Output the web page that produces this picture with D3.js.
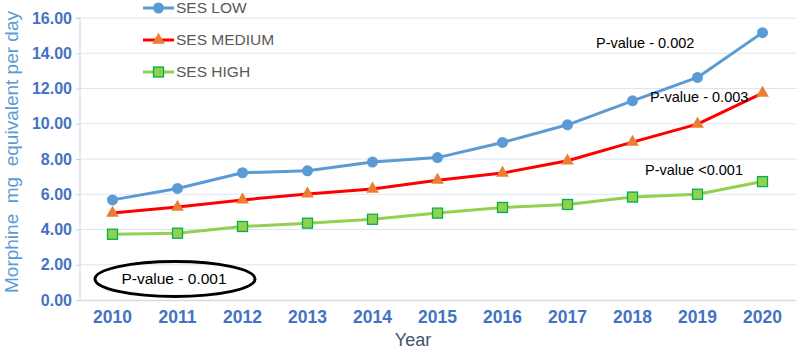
<!DOCTYPE html>
<html>
<head>
<meta charset="utf-8">
<script src="https://cdn.jsdelivr.net/npm/d3@7"></script>
<style>
  body { margin: 0; background: #fff; }
  svg { display: block; font-family: "Liberation Sans", Arial, sans-serif; }
</style>
</head>
<body>
<div id="grafico"></div>
<script>
// Dados
const anos = ['2010', '2011', '2012', '2013', '2014', '2015', '2016', '2017', '2018', '2019', '2020'];
const sesLow = [5.68, 6.33, 7.22, 7.33, 7.83, 8.08, 8.94, 9.94, 11.3, 12.63, 15.17];
const sesMedium = [4.93, 5.27, 5.68, 6.02, 6.3, 6.8, 7.2, 7.9, 8.96, 9.98, 11.74];
const sesHigh = [3.73, 3.79, 4.17, 4.36, 4.58, 4.93, 5.25, 5.42, 5.84, 6.0, 6.72];
const ticksY = [0, 2, 4, 6, 8, 10, 12, 14, 16];
const nomesSeries = ['SES LOW', 'SES MEDIUM', 'SES HIGH'];
const pValores = ['P-value - 0.002', 'P-value - 0.003', 'P-value <0.001'];
const pGeral = 'P-value - 0.001';

const width = 797, height = 349;
const margin = { top: 18, right: 2, bottom: 49, left: 80 };

const svg = d3.select('#grafico').append('svg')
  .attr('width', width)
  .attr('height', height);

// Escalas
const x = d3.scaleBand().domain(anos).range([margin.left, width - margin.right]);
const y = d3.scaleLinear().domain([0, 16]).range([height - margin.bottom, margin.top]);
const cx = d => x(d) + x.bandwidth() / 2;

// Linhas de grade
svg.append('g')
  .selectAll('line')
  .data(ticksY.slice(1))
  .join('line')
  .attr('x1', margin.left).attr('x2', width)
  .attr('y1', d => y(d)).attr('y2', d => y(d))
  .attr('stroke', '#dce6f2').attr('stroke-width', 1);

// Eixo Y
const eixoY = svg.append('g')
  .attr('transform', `translate(${margin.left},0)`)
  .call(d3.axisLeft(y).tickValues(ticksY).tickFormat(d3.format('.2f')).tickSize(4).tickPadding(4));
eixoY.select('.domain').attr('stroke', '#bdd7ee').attr('d', `M-4,${y(16)}H0V${y(0)}`);
eixoY.selectAll('.tick line').attr('stroke', '#bdd7ee');
eixoY.selectAll('.tick text')
  .attr('fill', '#4472c4').style('font-size', '16px').style('font-weight', 'bold');

// Eixo X
const eixoX = svg.append('g')
  .attr('transform', `translate(0,${y(0)})`)
  .call(d3.axisBottom(x).tickSize(0).tickPadding(11));
eixoX.select('.domain').attr('stroke', '#d9d9d9').attr('stroke-width', 1.5);
eixoX.selectAll('.tick text')
  .attr('fill', '#4472c4').style('font-size', '17.5px').style('font-weight', 'bold');

// Títulos dos eixos
svg.append('text')
  .attr('transform', `translate(18,152) rotate(-90)`)
  .attr('text-anchor', 'middle')
  .attr('fill', '#5b9bd5')
  .style('font-size', '19px')
  .style('white-space', 'pre')
  .attr('xml:space', 'preserve')
  .text('Morphine  mg  equivalent per day');

svg.append('text')
  .attr('x', 413).attr('y', 346)
  .attr('text-anchor', 'middle')
  .attr('fill', '#44546a')
  .style('font-size', '18px')
  .text('Year');

// Séries
const series = [
  { nome: nomesSeries[0], valores: sesLow, cor: '#5b9bd5', marcador: 'circle' },
  { nome: nomesSeries[1], valores: sesMedium, cor: '#ff0000', marcador: 'triangle' },
  { nome: nomesSeries[2], valores: sesHigh, cor: '#92d050', marcador: 'square' }
];

function marcador(g, tipo) {
  if (tipo === 'circle') {
    g.append('circle').attr('r', 5.5).attr('fill', '#5b9bd5');
  } else if (tipo === 'triangle') {
    g.append('path').attr('d', d3.symbol(d3.symbolTriangle, 70)()).attr('fill', '#ed7d31');
  } else {
    g.append('rect').attr('x', -5).attr('y', -5).attr('width', 10).attr('height', 10)
      .attr('fill', '#92d050').attr('stroke', '#00b050').attr('stroke-width', 1.3);
  }
}

const linha = d3.line().x((d, i) => cx(anos[i])).y(d => y(d));

series.forEach(s => {
  svg.append('path')
    .datum(s.valores)
    .attr('d', linha)
    .attr('fill', 'none')
    .attr('stroke', s.cor)
    .attr('stroke-width', 3)
    .attr('stroke-linejoin', 'round');
  s.valores.forEach((v, i) => {
    const g = svg.append('g').attr('transform', `translate(${cx(anos[i])},${y(v)})`);
    marcador(g, s.marcador);
  });
});

// Legenda
const legendaY = [8, 40, 72];
series.forEach((s, i) => {
  const g = svg.append('g').attr('transform', `translate(143,${legendaY[i]})`);
  g.append('line').attr('x1', 0).attr('x2', 31).attr('stroke', s.cor).attr('stroke-width', 3);
  const m = g.append('g').attr('transform', 'translate(15.5,0)');
  marcador(m, s.marcador);
  g.append('text')
    .attr('x', 33).attr('y', 0).attr('dy', '0.35em')
    .attr('fill', '#595959')
    .style('font-size', '15.5px')
    .text(s.nome);
});

// Anotações de p-valor
const posP = [[596, 43], [650, 97], [645, 170]];
pValores.forEach((t, i) => {
  svg.append('text')
    .attr('x', posP[i][0]).attr('y', posP[i][1]).attr('dy', '0.35em')
    .attr('fill', '#000')
    .style('font-size', '14.5px')
    .text(t);
});

// Elipse com p-valor geral
svg.append('ellipse')
  .attr('cx', 175).attr('cy', 279).attr('rx', 80).attr('ry', 17.5)
  .attr('fill', 'none').attr('stroke', '#000').attr('stroke-width', 3);
svg.append('text')
  .attr('x', 174).attr('y', 279).attr('dy', '0.35em')
  .attr('text-anchor', 'middle')
  .attr('fill', '#000')
  .style('font-size', '15.5px')
  .text(pGeral);
</script>
</body>
</html>
